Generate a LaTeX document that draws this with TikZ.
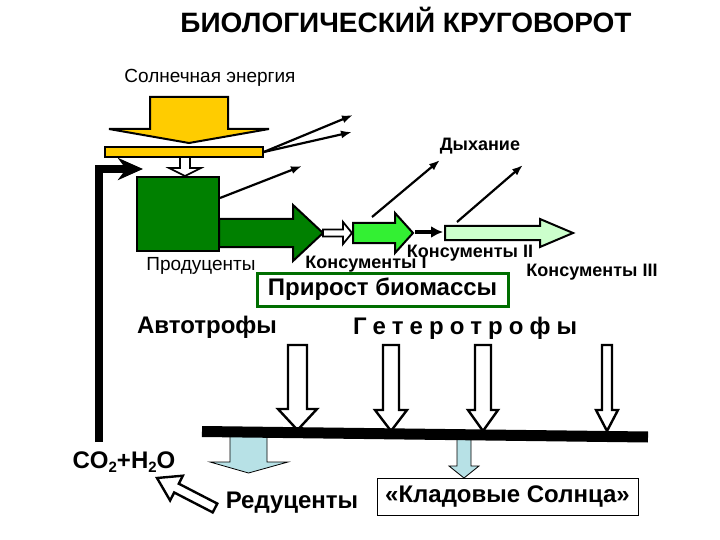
\documentclass[tikz,border=0pt]{standalone}
\usepackage{fontspec}
\setmainfont{Liberation Sans}
\usetikzlibrary{arrows.meta}
\definecolor{sunyellow}{RGB}{255,204,0}
\definecolor{prodgreen}{RGB}{0,128,0}
\definecolor{brightgreen}{RGB}{51,240,51}
\definecolor{palegreen}{RGB}{204,255,204}
\definecolor{lightblue}{RGB}{183,225,230}
\definecolor{framegreen}{RGB}{0,110,0}
\begin{document}
\begin{tikzpicture}[x=1pt,y=-1pt,
  lbl/.style={font=\fontsize{18}{20}\selectfont\bfseries, inner sep=0pt},
  lblreg/.style={font=\fontsize{19}{21}\selectfont, inner sep=0pt},
  big/.style={font=\fontsize{24}{26}\selectfont\bfseries, inner sep=0pt},
  resp/.style={line width=2.2pt, -{Latex[length=11pt,width=8pt]}},
  hollow/.style={draw=black, fill=white, line width=2.4pt, line join=miter},
  blockarrow/.style={draw=black, line width=2pt, line join=miter},
  bluearrow/.style={draw=black, fill=lightblue, line width=0.8pt, line join=miter}]
\useasboundingbox (0,0) rectangle (720,540);

% title and sun
\node[font=\fontsize{28}{30}\selectfont\bfseries, inner sep=0pt] (title) at (406,20) {БИОЛОГИЧЕСКИЙ КРУГОВОРОТ};
\node[font=\fontsize{19}{21}\selectfont, inner sep=0pt] (sun) at (210,78) {Солнечная энергия};

% yellow sun arrow and bar
\draw[blockarrow, fill=sunyellow] (150,97) -- (228,97) -- (228,129) -- (269,129) -- (189,143) -- (109,129) -- (150,129) -- cycle;
\node[draw=black, fill=sunyellow, line width=1.5pt, minimum width=158pt, minimum height=10pt, inner sep=0pt] (bar) at (184,152) {};

% producers box
\node[draw=black, fill=prodgreen, line width=1.5pt, minimum width=82pt, minimum height=74pt, inner sep=0pt] (prod) at (178,214) {};
\draw[hollow, line width=1.6pt] (180,157) -- (190,157) -- (190,168) -- (201,168) -- (185,176) -- (169,168) -- (180,168) -- cycle;

% food chain arrows
\draw[blockarrow, fill=prodgreen] (219,219) -- (293,219) -- (293,205) -- (323,233) -- (293,261) -- (293,247) -- (219,247) -- cycle;
\draw[hollow, line width=1.8pt] (323,229.5) -- (343,229.5) -- (343,222) -- (352,233) -- (343,244) -- (343,236.5) -- (323,236.5) -- cycle;
\draw[blockarrow, fill=brightgreen] (353,223) -- (395,223) -- (395,213) -- (413,233) -- (395,253) -- (395,243) -- (353,243) -- cycle;
\coordinate (ba1) at (415,232);
\coordinate (ba2) at (443,232);
\draw[line width=4pt, -{Latex[length=12pt,width=12pt]}] (ba1) -- (ba2);
\draw[blockarrow, fill=palegreen] (445,226) -- (540,226) -- (540,219) -- (573,233) -- (540,247) -- (540,240) -- (445,240) -- cycle;

% respiration arrows
\coordinate (r1) at (353,115);
\coordinate (r2) at (352,132);
\coordinate (p3) at (220,198);
\coordinate (r3) at (302,166);
\coordinate (c1s) at (372,217);
\coordinate (r4) at (440,160);
\coordinate (c2s) at (457,222);
\coordinate (r5) at (523,165);
\draw[resp] (bar.east) -- (r1);
\draw[resp] (bar.east) -- (r2);
\draw[resp] (p3) -- (r3);
\draw[resp] (c1s) -- (r4);
\draw[resp] (c2s) -- (r5);

% labels
\node[lbl] (dyh) at (480,146) {Дыхание};
\node[lblreg] (prodlbl) at (201,266) {Продуценты};
\node[lbl] (k1) at (366,264) {Консументы I};
\node[lbl] (k2) at (470,253) {Консументы II};
\node[lbl] (k3) at (592,272) {Консументы III};
\node[draw=framegreen, fill=white, line width=3pt, minimum width=251pt, minimum height=33pt, big] (prir) at (382.5,289.5) {Прирост биомассы};
\node[big] (auto) at (207,327) {Автотрофы};
\node[big] (hetero) at (465,328) {\spaceskip=6pt plus 0pt minus 0pt Г е т е р о т р о ф ы};

% downward hollow arrows to the bar
\draw[hollow] (288,345) -- (307,345) -- (307,409) -- (317,409) -- (297.5,430) -- (278,409) -- (288,409) -- cycle;
\draw[hollow] (383,345) -- (399,345) -- (399,410) -- (407,410) -- (391,431) -- (375,410) -- (383,410) -- cycle;
\draw[hollow] (475,345) -- (491,345) -- (491,410) -- (498,410) -- (483,431) -- (468,410) -- (475,410) -- cycle;
\draw[hollow] (602,345) -- (612,345) -- (612,410) -- (618,410) -- (607,431) -- (596,410) -- (602,410) -- cycle;

% light blue arrows
\draw[bluearrow] (230,432) -- (267,432) -- (267,462) -- (288,462) -- (248.5,473) -- (210,462) -- (230,462) -- cycle;
\draw[bluearrow] (457,436) -- (471,436) -- (471,466) -- (479,466) -- (464,478) -- (449,466) -- (457,466) -- cycle;

% black bar
\coordinate (barL) at (202,431.5);
\coordinate (barR) at (648,437);
\draw[line width=11pt] (barL) -- (barR);

% return line
\coordinate (lb) at (99,442);
\coordinate (lt) at (99,169);
\coordinate (la) at (143,169);
\draw[line width=8pt, line join=miter, -{Stealth[length=25pt,width=22pt,inset=8pt]}] (lb) -- (lt) -- (la);

% bottom labels
\node[big] (co2) at (124,462) {CO\raisebox{-0.35ex}{\fontsize{15}{15}\selectfont 2}+H\raisebox{-0.35ex}{\fontsize{15}{15}\selectfont 2}O};
\node[big] (red) at (292,503) {Редуценты};
\node[draw=black, line width=1pt, minimum width=261pt, minimum height=37pt, big] (klad) at (507.5,496.5) {«Кладовые Солнца»};
\draw[hollow] (217.3,503.6) -- (178.8,483.7) -- (182.9,475.7) -- (157,478) -- (170.1,500.5) -- (174.2,492.5) -- (212.7,512.4) -- cycle;
\end{tikzpicture}
\end{document}
